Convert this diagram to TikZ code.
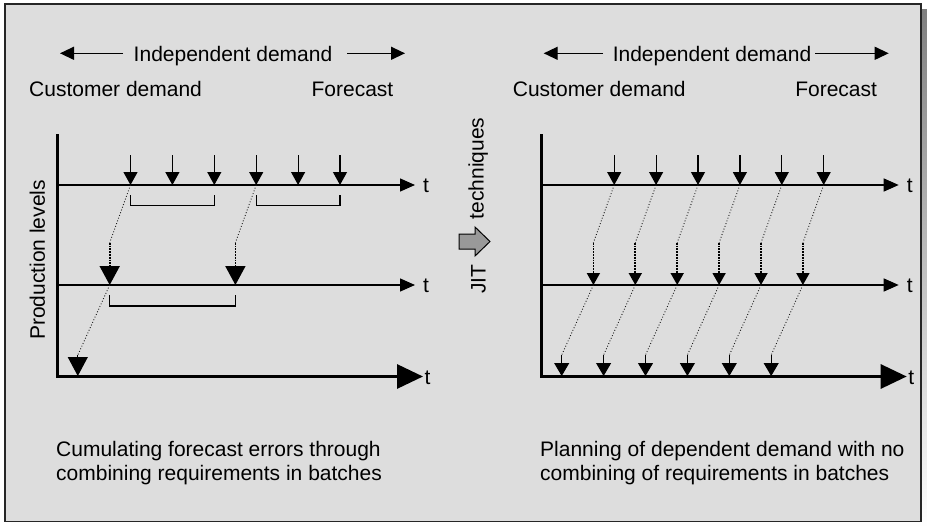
\documentclass[tikz,border=0pt]{standalone}
\usepackage{fontspec}
\setmainfont{Liberation Sans}
\usetikzlibrary{arrows.meta, positioning}
\definecolor{panel}{HTML}{DDDDDD}
\definecolor{shade}{HTML}{8C8C8C}
\definecolor{jitgray}{HTML}{999999}

\begin{document}
\begin{tikzpicture}[
  x=1pt, y=-1pt,
  txt/.style={font=\fontsize{21}{24}\selectfont, inner sep=0pt, text=black},
  axis/.style={line width=1.3pt, -{Triangle[length=15pt, width=13pt]}},
  baseaxis/.style={line width=3pt, -{Triangle[length=26pt, width=24pt]}},
  hdr/.style={line width=1.3pt, -{Triangle[length=14pt, width=13pt]}},
  dem/.style={line width=1.2pt, -{Triangle[length=13pt, width=14pt]}},
  slant/.style={dotted, line width=0.9pt, draw=black!90},
  stem/.style={densely dotted, line width=1.8pt},
  bighead/.style={-{Triangle[length=19pt, width=20pt]}},
  midhead/.style={-{Triangle[length=12pt, width=13pt]}},
  lowhead/.style={line width=1pt, -{Triangle[length=13pt, width=15pt]}},
  bracket/.style={line width=1.3pt}
]
\useasboundingbox (0,0) rectangle (927,527);
% frame and shadow
\fill[shade] (11,10) rectangle (927,527);
\draw[line width=1.5pt, draw=black!85, fill=panel] (5,4) rectangle (921,521.5);

% parts both panels share
\foreach \dx/\p/\tc/\la/\ra in {0/l/233/123/347, 483.7/r/228.3/119.3/331.3} {
  \begin{scope}[xshift=\dx pt]
    \node[txt, anchor=base] (ind\p) at (\tc,61.7) {Independent demand};
    \coordinate (hla\p) at (\la,53.3);
    \coordinate (hlb\p) at (60,53.3);
    \coordinate (hra\p) at (\ra,53.3);
    \coordinate (hrb\p) at (405,53.3);
    \draw[hdr] (hla\p) -- (hlb\p);
    \draw[hdr] (hra\p) -- (hrb\p);
    \node[txt, anchor=base west] (cust\p) at (29,96.7) {Customer demand};
    \node[txt, anchor=base east] (fc\p) at (393.5,96.7) {Forecast};
    % axes
    \coordinate (top\p) at (57.3,134);
    \coordinate (org\p) at (57.3,376.5);
    \coordinate (end\p) at (423,376.5);
    \draw[baseaxis] (top\p) -- (org\p) -- (end\p);
    \coordinate (ua\p) at (57.3,185);
    \coordinate (ub\p) at (415,185);
    \coordinate (va\p) at (57.3,285);
    \coordinate (vb\p) at (415,285);
    \draw[axis] (ua\p) -- (ub\p);
    \draw[axis] (va\p) -- (vb\p);
    \node[txt, anchor=base west] (tu\p) at (423,192.5) {t};
    \node[txt, anchor=base west] (tv\p) at (423,292.5) {t};
    \node[txt, anchor=base west] (tw\p) at (424.5,384) {t};
    % customer demand and forecast
    \foreach \i in {0,...,5} {
      \coordinate (d\p\i) at (130.5+41.9*\i,185);
      \draw[dem] ([yshift=30pt]d\p\i) -- (d\p\i);
    }
  \end{scope}
}

% left panel: batches
\node[txt, rotate=90, anchor=base] (ylab) at (45,260) {Production levels};
\coordinate (kl0) at (109.7,242.7);
\coordinate (kl3) at (235.4,242.7);
\coordinate (ml0) at (109.7,285);
\coordinate (ml3) at (235.4,285);
\coordinate (jl0) at (77.8,355);
\coordinate (bl0) at (77.8,376);
\draw[slant] (dl0) -- (kl0);
\draw[slant] (dl3) -- (kl3);
\draw[stem, bighead] (kl0) -- (ml0);
\draw[stem, bighead] (kl3) -- (ml3);
\draw[slant] (ml0) -- (jl0);
\draw[line width=1pt, bighead] (jl0) -- (bl0);
\draw[bracket] ([yshift=-10pt]dl0) |- ([yshift=-20.7pt]dl2) -- ([yshift=-10pt]dl2);
\draw[bracket] ([yshift=-10pt]dl3) |- ([yshift=-20.7pt]dl5) -- ([yshift=-10pt]dl5);
\draw[bracket] ([yshift=-10pt]ml0) |- ([yshift=-21pt]ml3) -- ([yshift=-10pt]ml3);
\node[txt, anchor=base west, align=left] (capl) at (56,480.7)
  {Cumulating forecast errors through\\combining requirements in batches};

% JIT
\draw[line width=1pt, fill=jitgray] (459,234) -- (475,234) -- (475,227) -- (490,241.5)
  -- (475,256) -- (475,249) -- (459,249) -- cycle;
\node[txt, rotate=90, anchor=base] (jit) at (485.5,279) {JIT};
\node[txt, rotate=90, anchor=base] (tech) at (483.5,168.5) {techniques};

% right panel: no batches
\begin{scope}[xshift=483.7pt]
  \foreach \i in {0,...,5} {
    \coordinate (kr\i) at (109.7+41.9*\i,242.7);
    \coordinate (mr\i) at (109.7+41.9*\i,285);
    \coordinate (jr\i) at (78+41.9*\i,355);
    \coordinate (br\i) at (78+41.9*\i,376);
    \draw[slant] (dr\i) -- (kr\i);
    \draw[stem, midhead] (kr\i) -- (mr\i);
    \draw[slant] (mr\i) -- (jr\i);
    \draw[lowhead] (jr\i) -- (br\i);
  }
  \node[txt, anchor=base west, align=left] (capr) at (56.3,480.7)
    {Planning of dependent demand with no\\combining of requirements in batches};
\end{scope}
\end{tikzpicture}
\end{document}
